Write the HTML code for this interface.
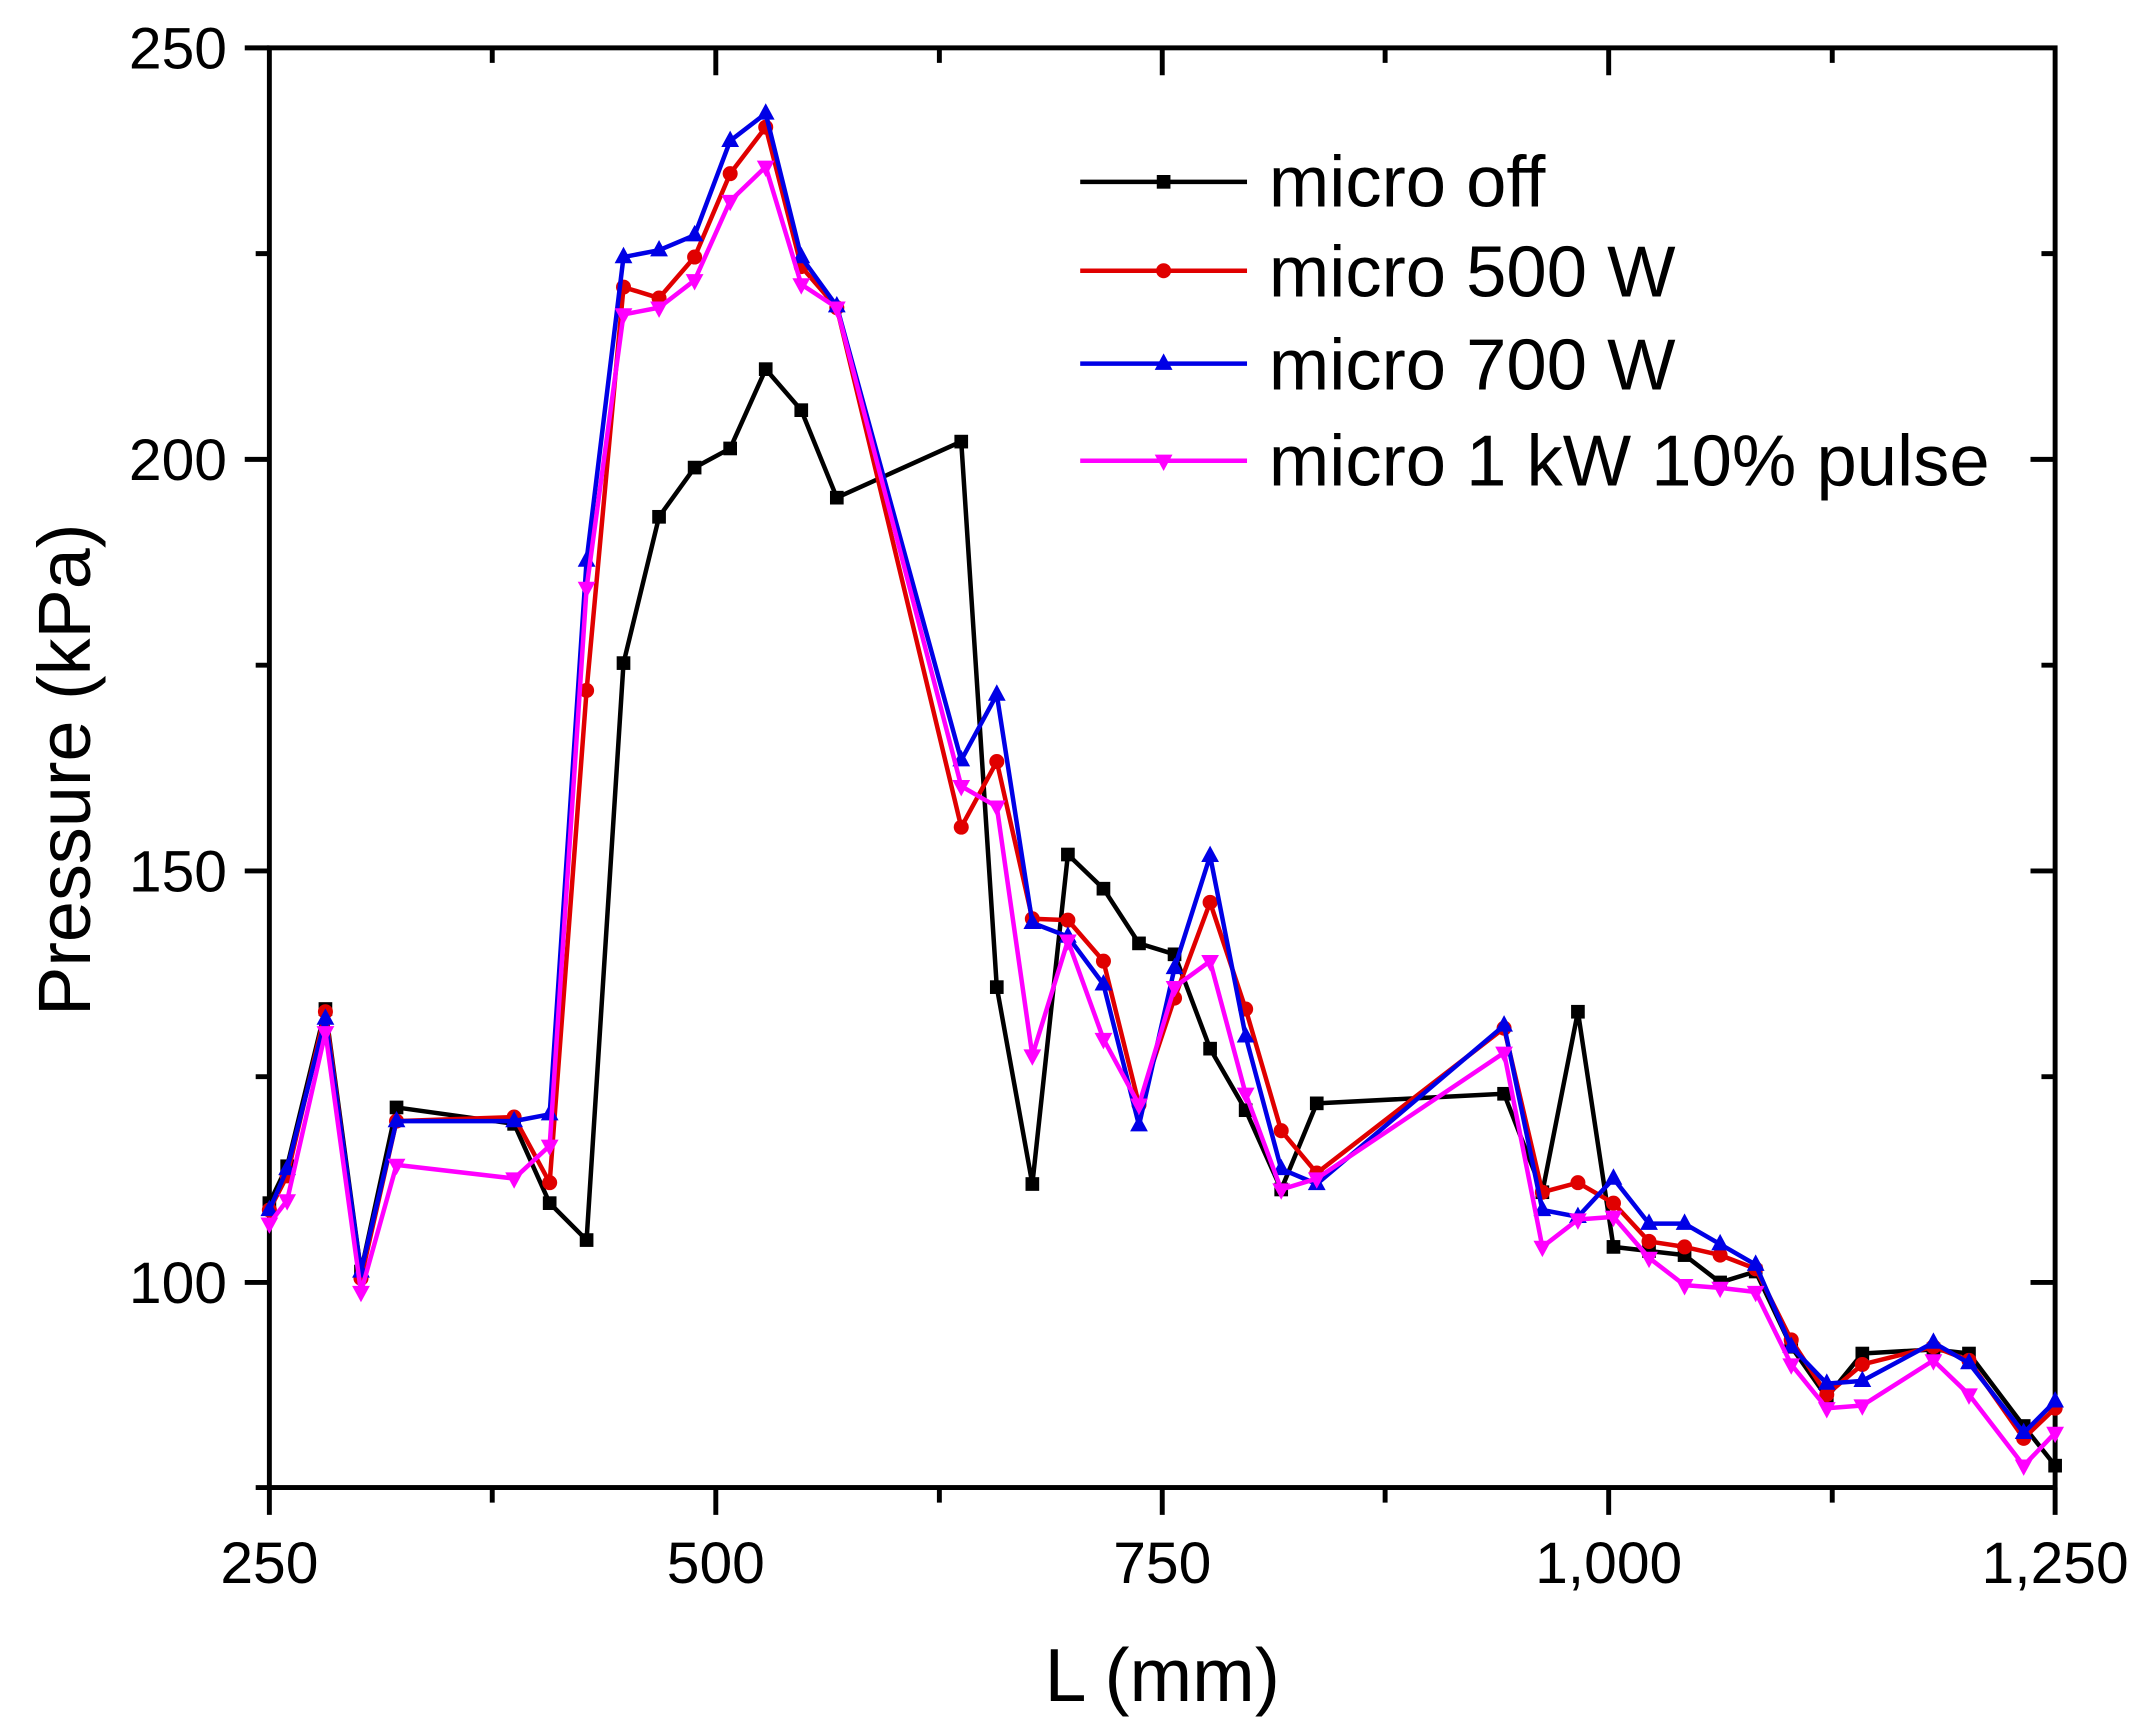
<!DOCTYPE html>
<html><head><meta charset="utf-8"><style>
html,body{margin:0;padding:0;background:#fff}
svg{display:block}
text{font-family:"Liberation Sans",sans-serif;fill:#000}
</style></head><body>
<svg id="s" width="2144" height="1735" viewBox="0 0 1568 1269" preserveAspectRatio="none" xmlns="http://www.w3.org/2000/svg">
<g stroke="#000" stroke-width="3.6" fill="none">
<rect x="197" y="35" width="1306" height="1053"/>
<path d="M197 1088v20M523.5 1088v20M850 1088v20M1176.5 1088v20M1503 1088v20M360 1088v11M687 1088v11M1013 1088v11M1340 1088v11
M523.5 35v20M850 35v20M1176.5 35v20M360 35v11M687 35v11M1013 35v11M1340 35v11
M197 35h-18M197 336h-18M197 637h-18M197 938h-18M197 185.5h-10M197 486.5h-10M197 787.5h-10M197 1088h-10
M1503 336h-18M1503 637h-18M1503 938h-18M1503 185.5h-10M1503 486.5h-10M1503 787.5h-10"/>
</g>
<g font-size="43" text-anchor="middle">
<text x="197" y="1158">250</text><text x="523.5" y="1158">500</text><text x="850" y="1158">750</text><text x="1176.5" y="1158">1,000</text><text x="1503" y="1158">1,250</text>
</g>
<g font-size="43" text-anchor="end">
<text x="166" y="50">250</text><text x="166" y="351">200</text><text x="166" y="652">150</text><text x="166" y="953">100</text>
</g>
<text x="850" y="1244" font-size="55" text-anchor="middle">L (mm)</text>
<text transform="translate(66,563) rotate(-90)" font-size="54" text-anchor="middle">Pressure (kPa)</text>
<g id="d"></g>
<g font-size="53">
<text x="928" y="151">micro off</text><text x="928" y="217">micro 500 W</text><text x="928" y="285">micro 700 W</text><text x="928" y="355">micro 1 kW 10% pulse</text>
</g>
</svg>
<script>
const X=[197,210,238,264,290,376,402,429,456,482,508,534,560,586,612,703,729,755,781,807,833,859,885,911,937,963,1100,1128,1154,1180,1206,1232,1258,1284,1310,1336,1362,1414,1440,1480,1503];
const S=[
{c:"#000",m:"s",ly:133,y:[880,853,738,930,810,822,880,907,485,378,342,328,270,300,364,323,722,866,625,650,690,698,767,812,870,807,800,872,740,912,915,918,938,930,985,1022,990,987,990,1043,1072]},
{c:"#e00000",m:"c",ly:198,y:[885,860,740,935,820,817,865,505,210,218,188,127,93,195,225,605,557,672,673,703,808,730,660,738,827,858,752,872,865,880,908,912,918,928,980,1020,998,985,995,1052,1030]},
{c:"#0000e6",m:"t",ly:266,y:[885,855,745,930,820,820,815,410,188,183,172,103,83,188,224,556,508,675,685,720,823,708,626,758,855,866,750,885,890,862,895,895,910,925,985,1012,1010,982,997,1048,1025]},
{c:"#ff00ff",m:"v",ly:337,y:[895,878,755,945,852,862,838,430,230,225,205,147,122,208,225,575,590,772,688,760,808,722,703,800,870,862,770,912,892,890,920,940,942,945,998,1030,1028,995,1020,1072,1048]}];
function mk(m,x,y,c){
 if(m=="s")return `<rect x="${x-5}" y="${y-5}" width="10" height="10" fill="${c}"/>`;
 if(m=="c")return `<circle cx="${x}" cy="${y}" r="5.5" fill="${c}"/>`;
 if(m=="t")return `<polygon points="${x},${y-7.5} ${x-6.5},${y+4.5} ${x+6.5},${y+4.5}" fill="${c}"/>`;
 return `<polygon points="${x},${y+7.5} ${x-6.5},${y-4.5} ${x+6.5},${y-4.5}" fill="${c}"/>`;
}
let h="";
for(const s of S){
 h+=`<polyline fill="none" stroke="${s.c}" stroke-width="3.3" stroke-linejoin="round" points="${X.map((x,i)=>x+","+s.y[i]).join(" ")}"/>`;
 X.forEach((x,i)=>h+=mk(s.m,x,s.y[i],s.c));
 h+=`<line x1="790" x2="912" y1="${s.ly}" y2="${s.ly}" stroke="${s.c}" stroke-width="3.3"/>`+mk(s.m,851,s.ly,s.c);
}
document.getElementById("d").innerHTML=h;
</script>
</body></html>
